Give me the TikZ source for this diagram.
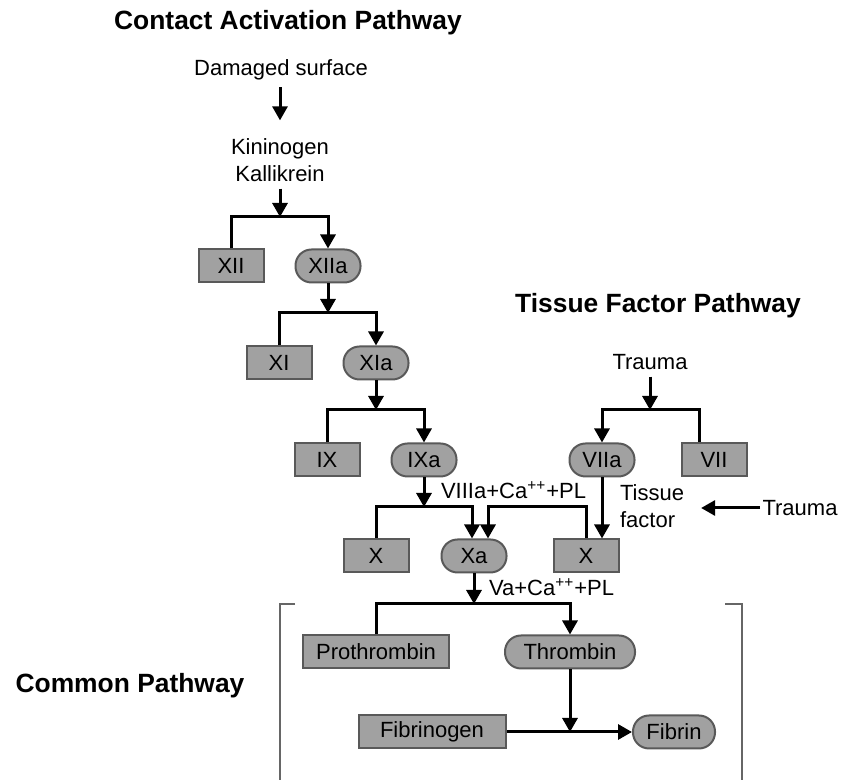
\documentclass[tikz,border=0pt]{standalone}
\usepackage{fontspec}
\setmainfont{Liberation Sans}
\usetikzlibrary{arrows.meta,positioning}

\begin{document}
\begin{tikzpicture}[
        x=0.5pt, y=-0.5pt,
        font=\fontsize{11}{13.5}\selectfont,
        factor/.style={rectangle, draw=black!65, fill=black!37, line width=1pt, minimum width=32.5pt, minimum height=16.5pt, inner sep=0pt},
        active/.style={factor, rounded corners=8pt},
        title/.style={font=\fontsize{13.2}{16}\selectfont\bfseries},
        arrow/.style={line width=1.5pt, -{Triangle[width=7.5pt,length=7pt]}},
        bracket/.style={draw=black!60, line width=0.8pt}
    ]
        \useasboundingbox (0,0) rectangle (843,780);

        \node[title] (contact) at (288,23) {Contact Activation Pathway};
        \node[title] (tissue) at (658,306) {Tissue Factor Pathway};
        \node[title] (common) at (130,686) {Common Pathway};

        \node (dmg) at (281,70) {Damaged surface};
        \node[align=center] (kin) at (280,160) {Kininogen\\Kallikrein};
        \draw[arrow, shorten >=5.5pt] (dmg.south -| kin) -- (kin);

        \coordinate (j1) at (280,217);
        \node[factor] (xii) at (231,266) {XII};
        \node[active] (xiia) at (328,266) {XIIa};
        \draw[arrow] (kin) -- (j1);
        \draw[arrow] (xii) |- (j1) -| (xiia);

        \coordinate (j2) at (328,313);
        \node[factor] (xi) at (279,363) {XI};
        \node[active] (xia) at (376,363) {XIa};
        \draw[arrow] (xiia) -- (j2);
        \draw[arrow] (xi) |- (j2) -| (xia);

        \coordinate (j3) at (376,410);
        \node[factor] (ix) at (327,460) {IX};
        \node[active] (ixa) at (424,460) {IXa};
        \draw[arrow] (xia) -- (j3);
        \draw[arrow] (ix) |- (j3) -| (ixa);

        \node (trauma) at (650,362) {Trauma};
        \coordinate (j4) at (650,410);
        \node[active] (viia) at (602,460) {VIIa};
        \node[factor] (vii) at (714,460) {VII};
        \draw[arrow] (trauma) -- (j4);
        \draw[arrow] ([xshift=-7.5pt]vii.north) |- (j4) -| (viia);

        \coordinate (j5) at (424,507);
        \node[factor] (xl) at (376,556) {X};
        \node[active] (xa) at (474,556) {Xa};
        \node[factor] (xr) at (586,556) {X};
        \coordinate (j6) at (xr |- j5);
        \node[anchor=west] (viiia) at (434,490) {VIIIa+Ca\textsuperscript{++}+PL};
        \draw[arrow] (ixa) -- (j5);
        \draw[arrow] (xl) |- (j5) -| ([xshift=-1pt]xa.north);
        \draw[arrow] (xr) -- (j6) -| ([xshift=7pt]xa.north);
        \draw[arrow] (viia) -- (viia |- xr.north);

        \node[align=left, anchor=west] (tf) at (613,506) {Tissue\\factor};
        \node[inner sep=1pt] (trauma2) at (800,508) {Trauma};
        \draw[arrow, shorten >=5pt] (trauma2.west) -- (trauma2.west -| tf.east);

        \coordinate (j7) at (474,604);
        \node[anchor=west] (va) at (482,587) {Va+Ca\textsuperscript{++}+PL};
        \node[factor, minimum width=73pt] (proth) at (376,652) {Prothrombin};
        \node[active, minimum width=65pt] (thr) at (570,652) {Thrombin};
        \draw[arrow] (xa) -- (j7);
        \draw[arrow] (proth) |- (j7) -| (thr);

        \node[factor, minimum width=73.5pt] (fibg) at (432,732) {Fibrinogen};
        \node[active, minimum width=41pt] (fib) at (674,732) {Fibrin};
        \draw[arrow] (fibg) -- (fib);
        \draw[arrow] (thr) -- (thr |- fib);

        \draw[bracket] (295,604) -- (280,604) -- (280,780);
        \draw[bracket] (725,604) -- (742,604) -- (742,780);
    \end{tikzpicture}
\end{document}
